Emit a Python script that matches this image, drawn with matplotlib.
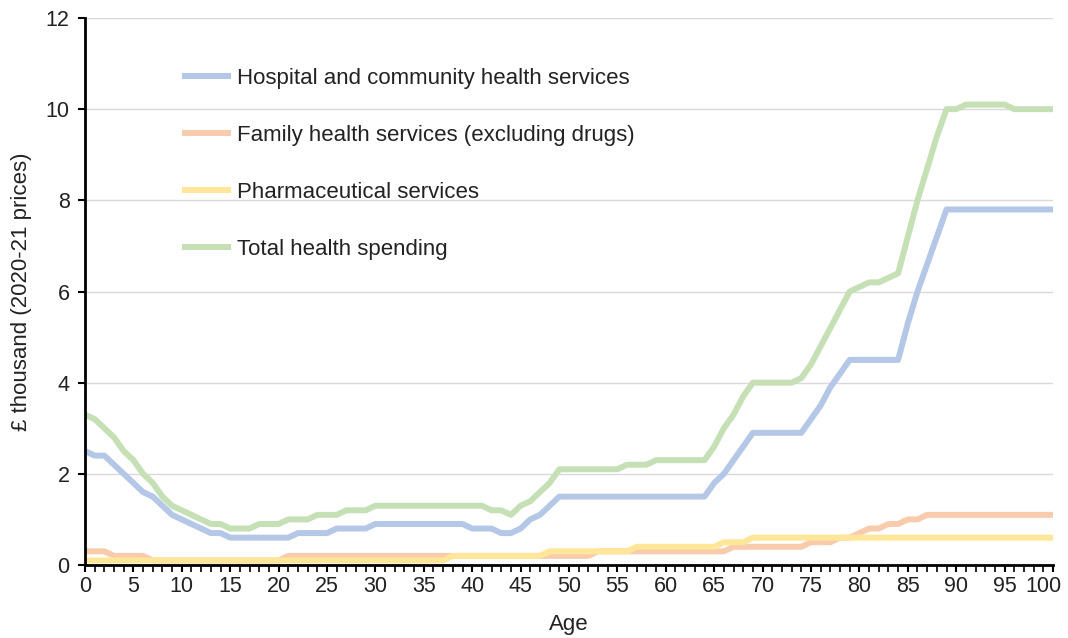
import matplotlib
matplotlib.use("Agg")
import matplotlib.pyplot as plt
import matplotlib.transforms as mtransforms
import numpy as np

plt.rcParams['font.family'] = ['Liberation Sans', 'DejaVu Sans']

ages = list(range(0, 101))

hospital = [2.5, 2.4, 2.4, 2.2, 2.0, 1.8, 1.6, 1.5, 1.3, 1.1,
            1.0, 0.9, 0.8, 0.7, 0.7, 0.6, 0.6, 0.6, 0.6, 0.6,
            0.6, 0.6, 0.7, 0.7, 0.7, 0.7, 0.8, 0.8, 0.8, 0.8,
            0.9, 0.9, 0.9, 0.9, 0.9, 0.9, 0.9, 0.9, 0.9, 0.9,
            0.8, 0.8, 0.8, 0.7, 0.7, 0.8, 1.0, 1.1, 1.3, 1.5,
            1.5, 1.5, 1.5, 1.5, 1.5, 1.5, 1.5, 1.5, 1.5, 1.5,
            1.5, 1.5, 1.5, 1.5, 1.5, 1.8, 2.0, 2.3, 2.6, 2.9,
            2.9, 2.9, 2.9, 2.9, 2.9, 3.2, 3.5, 3.9, 4.2, 4.5,
            4.5, 4.5, 4.5, 4.5, 4.5, 5.3, 6.0, 6.6, 7.2, 7.8,
            7.8, 7.8, 7.8, 7.8, 7.8, 7.8, 7.8, 7.8, 7.8, 7.8,
            7.8]

family = [0.3, 0.3, 0.3, 0.2, 0.2, 0.2, 0.2, 0.1, 0.1, 0.1,
          0.1, 0.1, 0.1, 0.1, 0.1, 0.1, 0.1, 0.1, 0.1, 0.1,
          0.1, 0.2, 0.2, 0.2, 0.2, 0.2, 0.2, 0.2, 0.2, 0.2,
          0.2, 0.2, 0.2, 0.2, 0.2, 0.2, 0.2, 0.2, 0.2, 0.2,
          0.2, 0.2, 0.2, 0.2, 0.2, 0.2, 0.2, 0.2, 0.2, 0.2,
          0.2, 0.2, 0.2, 0.3, 0.3, 0.3, 0.3, 0.3, 0.3, 0.3,
          0.3, 0.3, 0.3, 0.3, 0.3, 0.3, 0.3, 0.4, 0.4, 0.4,
          0.4, 0.4, 0.4, 0.4, 0.4, 0.5, 0.5, 0.5, 0.6, 0.6,
          0.7, 0.8, 0.8, 0.9, 0.9, 1.0, 1.0, 1.1, 1.1, 1.1,
          1.1, 1.1, 1.1, 1.1, 1.1, 1.1, 1.1, 1.1, 1.1, 1.1,
          1.1]

pharma = [0.1, 0.1, 0.1, 0.1, 0.1, 0.1, 0.1, 0.1, 0.1, 0.1,
          0.1, 0.1, 0.1, 0.1, 0.1, 0.1, 0.1, 0.1, 0.1, 0.1,
          0.1, 0.1, 0.1, 0.1, 0.1, 0.1, 0.1, 0.1, 0.1, 0.1,
          0.1, 0.1, 0.1, 0.1, 0.1, 0.1, 0.1, 0.1, 0.2, 0.2,
          0.2, 0.2, 0.2, 0.2, 0.2, 0.2, 0.2, 0.2, 0.3, 0.3,
          0.3, 0.3, 0.3, 0.3, 0.3, 0.3, 0.3, 0.4, 0.4, 0.4,
          0.4, 0.4, 0.4, 0.4, 0.4, 0.4, 0.5, 0.5, 0.5, 0.6,
          0.6, 0.6, 0.6, 0.6, 0.6, 0.6, 0.6, 0.6, 0.6, 0.6,
          0.6, 0.6, 0.6, 0.6, 0.6, 0.6, 0.6, 0.6, 0.6, 0.6,
          0.6, 0.6, 0.6, 0.6, 0.6, 0.6, 0.6, 0.6, 0.6, 0.6,
          0.6]

total = [3.3, 3.2, 3.0, 2.8, 2.5, 2.3, 2.0, 1.8, 1.5, 1.3,
         1.2, 1.1, 1.0, 0.9, 0.9, 0.8, 0.8, 0.8, 0.9, 0.9,
         0.9, 1.0, 1.0, 1.0, 1.1, 1.1, 1.1, 1.2, 1.2, 1.2,
         1.3, 1.3, 1.3, 1.3, 1.3, 1.3, 1.3, 1.3, 1.3, 1.3,
         1.3, 1.3, 1.2, 1.2, 1.1, 1.3, 1.4, 1.6, 1.8, 2.1,
         2.1, 2.1, 2.1, 2.1, 2.1, 2.1, 2.2, 2.2, 2.2, 2.3,
         2.3, 2.3, 2.3, 2.3, 2.3, 2.6, 3.0, 3.3, 3.7, 4.0,
         4.0, 4.0, 4.0, 4.0, 4.1, 4.4, 4.8, 5.2, 5.6, 6.0,
         6.1, 6.2, 6.2, 6.3, 6.4, 7.2, 8.0, 8.7, 9.4, 10.0,
         10.0, 10.1, 10.1, 10.1, 10.1, 10.1, 10.0, 10.0, 10.0, 10.0,
         10.0]

series_names = ["Hospital and community health services",
                "Family health services (excluding drugs)",
                "Pharmaceutical services",
                "Total health spending"]
colors = ["#B4C7E7", "#F8CBAD", "#FFE699", "#C5E0B4"]

fig = plt.figure(figsize=(10.68, 6.38), dpi=100)
ax = fig.add_axes([85/1068, 73/638, (1053-85)/1068, (565-18)/638])

for vals, name, c in zip([hospital, family, pharma, total], series_names, colors):
    ax.plot(ages, vals, color=c, lw=4.3, label=name, solid_joinstyle='round',
            solid_capstyle='butt')

ax.set_xlim(0, 100)
ax.set_ylim(0, 12)
ax.set_yticks(np.arange(0, 13, 2))
ax.set_xticks(np.arange(0, 101, 5))
ax.set_xticks(np.arange(0, 101, 1), minor=True)
ax.tick_params(axis='both', which='major', labelsize=15.5, direction='out',
               length=5, width=1.5, color='black', labelcolor='#222222')
ax.tick_params(axis='x', which='minor', length=5, width=1.2, color='black')
ax.tick_params(axis='x', which='major', pad=3)
ax.tick_params(axis='y', which='major', pad=6)
ax.grid(axis='y', color='#D9D9D9', lw=1)
ax.set_axisbelow(True)
for s in ['top', 'right']:
    ax.spines[s].set_visible(False)
for s in ['left', 'bottom']:
    ax.spines[s].set_linewidth(2)
    ax.spines[s].set_color('black')

# shift the last x tick label left so it stays inside the figure
last_lbl = ax.get_xticklabels()[-1]
last_lbl.set_transform(last_lbl.get_transform() +
                       mtransforms.ScaledTranslation(-10/100, 0, fig.dpi_scale_trans))

ax.set_xlabel("Age", fontsize=16, color='#222222', labelpad=12)
ax.set_ylabel("£ thousand (2020-21 prices)", fontsize=16, color='#222222', labelpad=10)

leg = ax.legend(loc='upper left', bbox_to_anchor=(0.08, 0.945), frameon=False,
                fontsize=16, handlelength=2.2, handletextpad=0.25,
                labelspacing=1.62)
for t in leg.get_texts():
    t.set_color('#222222')

fig.savefig("out.png", dpi=100)
